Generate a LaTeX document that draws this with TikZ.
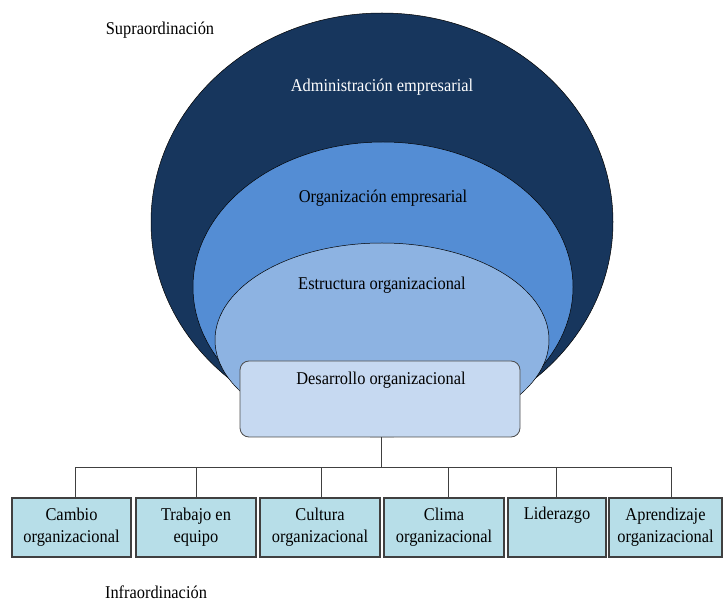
\documentclass[tikz,border=0pt]{standalone}
\usepackage{fontspec}
\setmainfont[FakeStretch=0.91]{Liberation Serif}
\definecolor{navy}{HTML}{17365D}
\definecolor{midblue}{HTML}{548DD4}
\definecolor{litblue}{HTML}{8DB3E2}
\definecolor{paleblue}{HTML}{C6D9F1}
\definecolor{boxblue}{HTML}{B7DEE8}
\tikzset{
  lbl/.style={font=\fontsize{18}{22}\selectfont, inner sep=0pt},
  ring/.style={draw=black, line width=0.5pt},
  leafbox/.style={draw=black!75, line width=1.1pt, fill=boxblue, minimum width=#1, minimum height=59pt, inner sep=0pt, align=center, font=\fontsize{18}{22}\selectfont},
  conn/.style={draw=black!75, line width=0.8pt}
}
\begin{document}
\begin{tikzpicture}[x=1pt,y=-1pt]
\useasboundingbox (0,0) rectangle (723,601);
% nested shapes
\draw[ring, fill=navy] (382,222) ellipse [x radius=231, y radius=209];
\draw[ring, fill=midblue] (383,287) ellipse [x radius=190, y radius=145];
\draw[ring, fill=litblue] (382,340) ellipse [x radius=167, y radius=97];
\node[lbl, text=white] (adm) at (382,87) {Administración empresarial};
\node[lbl] (org) at (383,198) {Organización empresarial};
\node[lbl] (est) at (382,285) {Estructura organizacional};
\node[draw=black!70, line width=0.8pt, fill=paleblue, rounded corners=9pt, minimum width=280pt, minimum height=76pt, inner sep=0pt] (des) at (380,399) {};
\node[lbl] (destxt) at (381,380) {Desarrollo organizacional};
% labels
\node[lbl] (sup) at (160,30) {Supraordinación};
\node[lbl] (inf) at (156,592) {Infraordinación};
% leaf boxes
\node[leafbox=119pt] (b1) at (71.5,527.5) {Cambio\\organizacional};
\node[leafbox=120pt] (b2) at (196,527.5) {Trabajo en\\equipo};
\node[leafbox=120pt] (b3) at (320,527.5) {Cultura\\organizacional};
\node[leafbox=120pt] (b4) at (444,527.5) {Clima\\organizacional};
\node[leafbox=98pt] (b5) at (557,527.5) {Liderazgo\\\strut};
\node[leafbox=113pt] (b6) at (665.5,527.5) {Aprendizaje\\organizacional};
% connectors
\coordinate (hub) at (381,467);
\coordinate (j1) at (75,467);
\coordinate (j2) at (196,467);
\coordinate (j3) at (321,467);
\coordinate (j4) at (448,467);
\coordinate (j5) at (556,467);
\coordinate (j6) at (671,467);
\draw[conn] (des.south -| hub) -- (hub);
\draw[conn] (j1) -- (j6);
\draw[conn] (j1) -- (j1 |- b1.north);
\draw[conn] (j2) -- (j2 |- b2.north);
\draw[conn] (j3) -- (j3 |- b3.north);
\draw[conn] (j4) -- (j4 |- b4.north);
\draw[conn] (j5) -- (j5 |- b5.north);
\draw[conn] (j6) -- (j6 |- b6.north);
\end{tikzpicture}
\end{document}
